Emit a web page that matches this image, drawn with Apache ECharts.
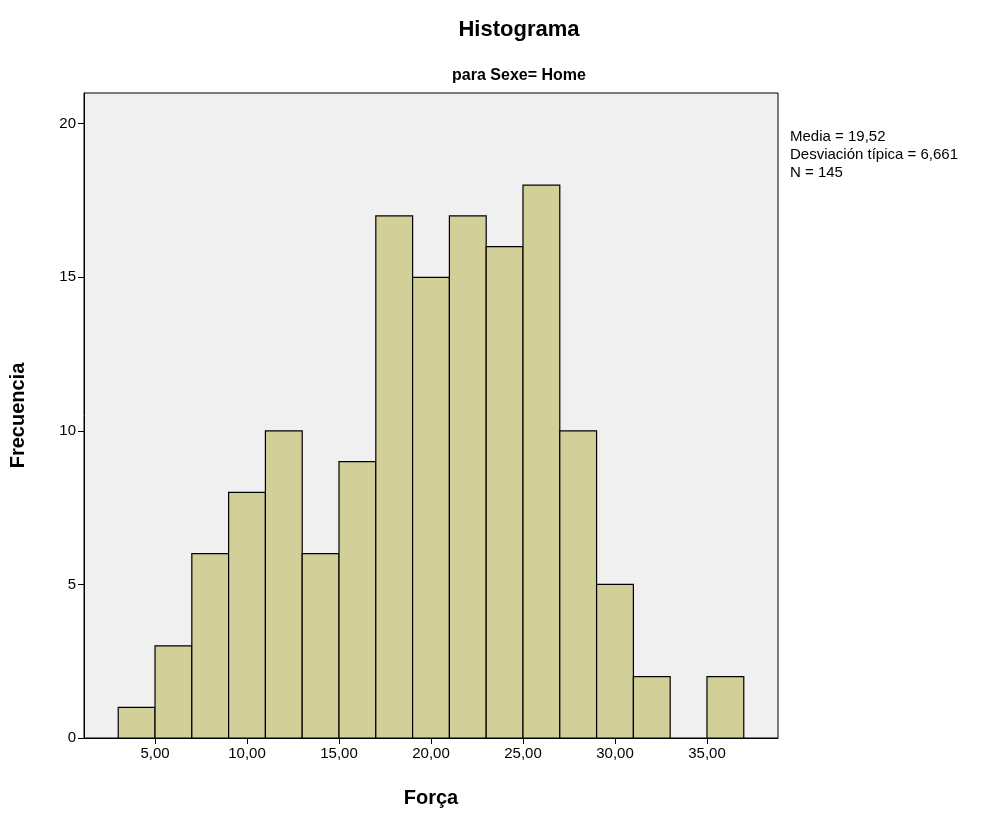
<!DOCTYPE html>
<html><head><meta charset="utf-8">
<script src="https://cdn.jsdelivr.net/npm/echarts@6/dist/echarts.min.js"></script>
<style>html,body{margin:0;padding:0;background:#fff}#c{width:996px;height:815px}</style>
</head><body><div id="c"></div>
<script>
const binStarts = [3,5,7,9,11,13,15,17,19,21,23,25,27,29,31,33,35];
const binWidth = 2;
const counts = [1,3,6,8,10,6,9,17,15,17,16,18,10,5,2,0,2];
const xTicks = [5,10,15,20,25,30,35];
const yTicks = [0,5,10,15,20];
const stats = ['Media = 19,52','Desviación típica = 6,661','N = 145'];
const data = binStarts.map((s,i)=>[s, s+binWidth, counts[i]]);
const chart = echarts.init(document.getElementById('c'));
const F = 'Arial, Liberation Sans, sans-serif';
chart.setOption({
  animation:false,
  title:[
    {text:'Histograma',left:514,textAlign:'center',top:14,textStyle:{fontFamily:F,fontSize:22,fontWeight:'bold',color:'#000'}},
    {text:'para Sexe= Home',left:514,textAlign:'center',top:63,textStyle:{fontFamily:F,fontSize:16,fontWeight:'bold',color:'#000'}}
  ],
  graphic:[{type:'text',left:790,top:128,style:{text:stats.join('\n'),font:'15px '+F,lineHeight:18,fill:'#000'}}],
  grid:{left:84,right:218,top:93,bottom:77,outerBoundsMode:'none',containLabel:false,show:true,backgroundColor:'#f0f0f0',borderColor:'#000',borderWidth:1},
  xAxis:{type:'value',min:1.14,max:38.86,name:'Força',nameLocation:'middle',nameGap:50,
    nameTextStyle:{fontFamily:F,fontSize:20,fontWeight:'bold',color:'#000'},
    axisLine:{show:true,lineStyle:{color:'#000'}},splitLine:{show:false},
    axisTick:{show:true,length:6,customValues:xTicks,lineStyle:{color:'#000'}},
    axisLabel:{customValues:xTicks,fontFamily:F,fontSize:15,color:'#000',formatter:v=>v.toFixed(2).replace('.',',')}},
  yAxis:{type:'value',min:0,max:21,name:'Frecuencia',nameLocation:'middle',nameGap:56,
    nameTextStyle:{fontFamily:F,fontSize:20,fontWeight:'bold',color:'#000'},
    axisLine:{show:true,lineStyle:{color:'#000'}},splitLine:{show:false},
    axisTick:{show:true,length:6,customValues:yTicks,lineStyle:{color:'#000'}},
    axisLabel:{customValues:yTicks,fontFamily:F,fontSize:15,color:'#000'}},
  series:[{type:'custom',data:data,encode:{x:[0,1],y:2},
    renderItem:(p,api)=>{
      const a=api.coord([api.value(0),api.value(2)]);
      const b=api.coord([api.value(1),0]);
      if(api.value(2)===0) return null;
      return {type:'rect',shape:{x:a[0],y:a[1],width:b[0]-a[0],height:b[1]-a[1]},
        style:{fill:'#d3cf98',stroke:'#000',lineWidth:1.2}};
    }}]
});
</script></body></html>
